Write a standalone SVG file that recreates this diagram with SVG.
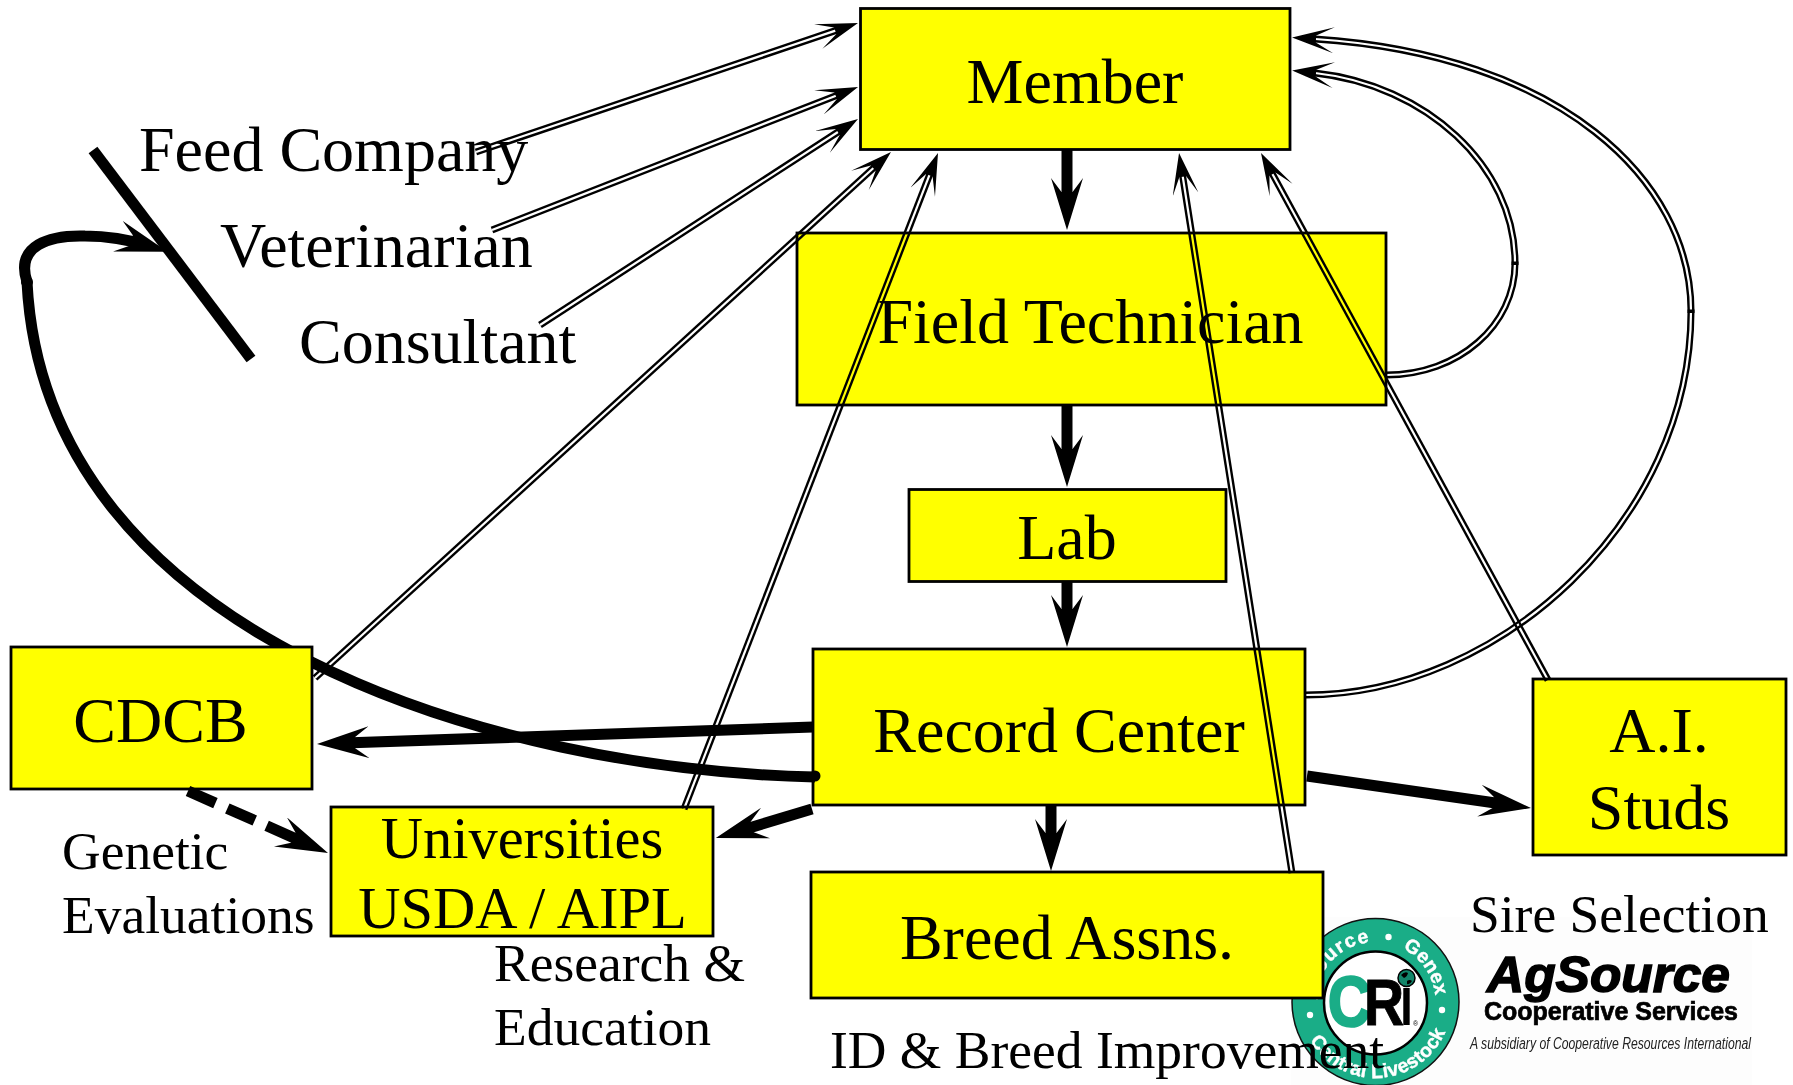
<svg xmlns="http://www.w3.org/2000/svg" width="1793" height="1085" viewBox="0 0 1793 1085">
<style>
.box{fill:#ffff00;stroke:#000;stroke-width:2.8}
.t{font-family:"Liberation Serif","Times New Roman",serif;fill:#000}
.l{font-size:64px;text-anchor:middle}
.f{font-size:64px}
.s{font-size:53.5px}
.u{font-size:58.5px;text-anchor:middle}
.dbl{mix-blend-mode:multiply;fill:none}
.o{stroke:#000;stroke-width:7;fill:none}
.i{stroke:#fff;stroke-width:2.2;fill:none}
.a{marker-end:url(#thin);stroke:none;fill:none}
.th{stroke:#000;stroke-width:11;fill:none}
.cv{stroke:#000;stroke-width:11;fill:none}
.ta{marker-end:url(#thick)}
.ring{font-family:"Liberation Sans",Arial,sans-serif;font-weight:700;fill:#fff;font-size:19.5px;stroke:#fff;stroke-width:0.4}
.sans{font-family:"Liberation Sans",Arial,sans-serif}
</style>
<defs>
<marker id="thin" markerUnits="userSpaceOnUse" markerWidth="44" markerHeight="28" refX="19" refY="13" orient="auto"><path d="M42,13 L0,0 L18,9.500 V16.500 L0,26Z" fill="#000"/></marker>
<marker id="thick" markerUnits="userSpaceOnUse" markerWidth="54" markerHeight="34" refX="32" refY="16" orient="auto"><path d="M52,16 L0,0 L14,10.500 V21.500 L0,32Z" fill="#000"/></marker>
<clipPath id="notCdcb"><path clip-rule="evenodd" d="M0,0H1793V1085H0Z M11,647H312V789H11Z"/></clipPath>
<path id="rtop" d="M1315.500,1002 A60,60 0 1 1 1435.500,1002 A60,60 0 1 1 1315.500,1002"/>
<path id="rbot" d="M1299.500,1002 A76,76 0 0 0 1451.500,1002"/>
</defs>
<g id="logos">
<rect x="1291" y="917" width="461" height="168" fill="#fdfdfd"/>
<g id="cri-logo">
<circle cx="1375.500" cy="1002" r="83.500" fill="#1aad87" stroke="#111" stroke-width="1.500"/>
<circle cx="1375.500" cy="1003" r="51.500" fill="#fff" stroke="#000" stroke-width="2.500"/>
<text class="ring" letter-spacing="1.300" text-anchor="end"><textPath href="#rtop" startOffset="89">AgSource</textPath></text>
<text class="ring"><textPath href="#rtop" startOffset="122">Genex</textPath></text>
<text class="ring" letter-spacing="0.300" text-anchor="middle"><textPath href="#rbot" startOffset="52%">Central Livestock</textPath></text>
<circle cx="1388.500" cy="937" r="3.200" fill="#fff"/><circle cx="1442" cy="1010" r="3.200" fill="#fff"/><circle cx="1310" cy="1015" r="3.200" fill="#fff"/>
<text class="sans" x="1328" y="1026" font-size="71" font-weight="700" fill="#1aad87" stroke="#1aad87" stroke-width="2.500" textLength="43" lengthAdjust="spacingAndGlyphs">C</text>
<text class="sans" x="1364" y="1025" font-size="65" font-weight="700" fill="#000" stroke="#000" stroke-width="1" textLength="40" lengthAdjust="spacingAndGlyphs">R</text>
<text class="sans" x="1400" y="1025" font-size="70" font-weight="700" fill="#000" textLength="13" lengthAdjust="spacingAndGlyphs">i</text>
<circle cx="1406.500" cy="978" r="8.500" fill="#12866a" stroke="#000" stroke-width="1.500"/>
<path d="M1401,975q4,-4 7,-2q-1,4 -4,5zM1407,981q3,-2 5,0q-2,4 -5,3z" fill="#000"/>
<text class="sans" x="1413" y="1026" font-size="7" fill="#000">®</text>
</g>
<g id="agsource-logo">
<text class="sans" x="1487" y="992" font-size="50" font-weight="700" font-style="italic" stroke="#000" stroke-width="1.500" textLength="243" lengthAdjust="spacingAndGlyphs">AgSource</text>
<text class="sans" x="1484" y="1020" font-size="25" font-weight="700" stroke="#000" stroke-width="0.700" textLength="254" lengthAdjust="spacingAndGlyphs">Cooperative Services</text>
<text class="sans" x="1470" y="1049" font-size="16" font-style="italic" fill="#222" textLength="281" lengthAdjust="spacingAndGlyphs">A subsidiary of Cooperative Resources International</text>
</g>
</g>
<g id="member"><rect class="box" x="860.500" y="8.500" width="429.500" height="141"/><text class="t l" x="1075" y="103">Member</text></g>
<g id="field-technician"><rect class="box" x="797" y="233" width="589" height="172"/><text class="t l" x="1090.500" y="343">Field Technician</text></g>
<g id="lab"><rect class="box" x="909" y="489.500" width="317" height="92"/><text class="t l" x="1067" y="559">Lab</text></g>
<g id="record-center"><rect class="box" x="813" y="649" width="492" height="156"/><text class="t l" x="1059" y="751.500">Record Center</text></g>
<g id="ai-studs"><rect class="box" x="1533" y="679" width="253" height="176"/><text class="t l" x="1659" y="752">A.I.</text><text class="t l" x="1659" y="829">Studs</text></g>
<g id="breed-assns"><rect class="box" x="811" y="872" width="512" height="126"/><text class="t l" x="1067" y="959">Breed Assns.</text></g>
<g id="cdcb"><rect class="box" x="11" y="647" width="301" height="142"/><text class="t l" x="160.500" y="742">CDCB</text></g>
<g id="universities"><rect class="box" x="331" y="807" width="382" height="129"/><text class="t u" x="522" y="858">Universities</text><text class="t u" x="522.500" y="928">USDA / AIPL</text></g>
<g id="feed-company"><text class="t f" x="139" y="171">Feed Company</text></g>
<g id="veterinarian"><text class="t f" x="220" y="267">Veterinarian</text></g>
<g id="consultant"><text class="t f" x="299" y="363">Consultant</text></g>
<g id="labels">
<text class="t s" x="62" y="869">Genetic</text>
<text class="t s" x="62" y="933">Evaluations</text>
<text class="t s" x="494" y="981">Research &amp;</text>
<text class="t s" x="494" y="1045">Education</text>
<text class="t s" x="830" y="1068">ID &amp; Breed Improvement</text>
<text class="t s" x="1470" y="932">Sire Selection</text>
</g>
<g id="connectors">
<path class="cv" clip-path="url(#notCdcb)" d="M815,777 C500,770 45,640 27,282"/>
<path class="cv ta" d="M27,282 C15,245 50,235 85,236 C110,236 130,240 148.400,245.800"/>
<circle cx="815" cy="776" r="5.500"/>
<circle cx="27" cy="282" r="6"/>
<line x1="93" y1="150" x2="251" y2="359" stroke="#000" stroke-width="11"/>
<path class="th ta" d="M1067,150V210"/>
<path class="th ta" d="M1067,406V467"/>
<path class="th ta" d="M1067,582V627"/>
<path class="th ta" d="M1051,806V851"/>
<path class="th ta" d="M813,727L337,743.300"/>
<path class="th ta" d="M1307,776L1511.200,805.200"/>
<path class="th ta" d="M812,809L735,832.200"/>
<path class="th ta" stroke-dasharray="30 13" d="M188,791L309.700,844.900"/>
<g class="dbl"><path class="o" d="M476,152L836.200,30.400"/><path class="i" d="M476,152L836.200,30.400"/></g>
<g class="dbl"><path class="o" d="M492,230L836.600,95.400"/><path class="i" d="M492,230L836.600,95.400"/></g>
<g class="dbl"><path class="o" d="M540,325L838.700,131.500"/><path class="i" d="M540,325L838.700,131.500"/></g>
<g class="dbl"><path class="o" d="M315,678L874,167.500"/><path class="i" d="M315,678L874,167.500"/></g>
<g class="dbl"><path class="o" d="M684,809L929.700,174.400"/><path class="i" d="M684,809L929.700,174.400"/></g>
<g class="dbl"><path class="o" d="M1292,873L1182.600,175.700"/><path class="i" d="M1292,873L1182.600,175.700"/></g>
<g class="dbl"><path class="o" d="M1548,680L1272,173.200"/><path class="i" d="M1548,680L1272,173.200"/></g>
<g class="dbl"><path class="o" d="M1386,375C1459,375 1515,325 1515,263C1515,165 1425,85 1315,73"/><path class="i" d="M1386,375C1459,375 1515,325 1515,263C1515,165 1425,85 1315,73"/></g>
<g class="dbl"><path class="o" d="M1305,695C1500,695 1691,520 1691,311C1691,180 1560,55 1315,39"/><path class="i" d="M1305,695C1500,695 1691,520 1691,311C1691,180 1560,55 1315,39"/></g>
<path class="a" d="M476,152L836.200,30.400"/>
<path class="a" d="M492,230L836.600,95.400"/>
<path class="a" d="M540,325L838.700,131.500"/>
<path class="a" d="M315,678L874,167.500"/>
<path class="a" d="M684,809L929.700,174.400"/>
<path class="a" d="M1292,873L1182.600,175.700"/>
<path class="a" d="M1548,680L1272,173.200"/>
<path class="a" d="M1515,263C1515,165 1425,85 1315,73"/>
<path class="a" d="M1691,311C1691,180 1560,55 1315,39"/>
<rect x="1511.500" y="261.500" width="7" height="3.500"/>
<rect x="1687.500" y="309.500" width="7" height="3.500"/>
</g>
</svg>
